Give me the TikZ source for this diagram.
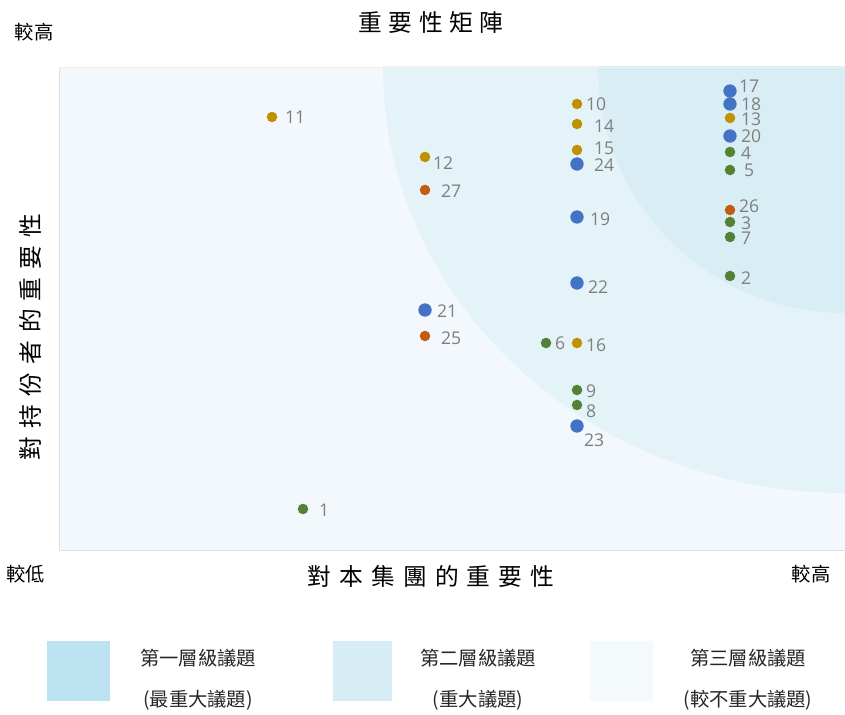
\documentclass[tikz,border=0pt]{standalone}
\usepackage{fontspec}
\setmainfont{Noto Sans CJK TC}
\newfontfamily\numfont{Open Sans}
\newfontfamily\widefont[LetterSpace=28]{Noto Sans CJK TC}
\newfontfamily\axisfont[LetterSpace=34]{Noto Sans CJK TC}
\definecolor{plotbg}{HTML}{F3F8FC}
\definecolor{tiertwo}{HTML}{E4F3F8}
\definecolor{tierone}{HTML}{D9EEF4}
\definecolor{keyone}{HTML}{BDE3F2}
\definecolor{keytwo}{HTML}{D6EDF5}
\definecolor{keythree}{HTML}{F4F9FC}
\definecolor{dotblue}{HTML}{4472C4}
\definecolor{dotgold}{HTML}{BF9000}
\definecolor{dotorange}{HTML}{C55A11}
\definecolor{dotgreen}{HTML}{538135}
\definecolor{numgray}{HTML}{7F7F7F}

\begin{document}
\begin{tikzpicture}[x=0.02cm, y=-0.02cm,
                every node/.style={inner sep=0pt, outer sep=0pt},
                blue/.style={circle, fill=dotblue, minimum size=7.6pt},
                gold/.style={circle, fill=dotgold, minimum size=6pt},
                orange/.style={circle, fill=dotorange, minimum size=6pt},
                green/.style={circle, fill=dotgreen, minimum size=6pt},
                num/.style={anchor=west, text=numgray, font=\numfont\fontsize{10}{12}\selectfont},
                axis/.style={font=\fontsize{11}{13}\selectfont},
                keytext/.style={font=\fontsize{11}{13}\selectfont, text=black!85}]

                \useasboundingbox (0,0) rectangle (845,715);

                % tiers
                \begin{scope}
                \clip (59,67) rectangle (845,550);
                \fill[plotbg] (59,67) rectangle (845,550);
                \fill[tiertwo] (845,67) ellipse [x radius=462, y radius=426];
                \fill[tierone] (845,67) ellipse [x radius=247, y radius=246];
                \end{scope}
                \draw[black!12] (59,67) -- (59,550) -- (845,550);
                \draw[black!6] (59,67) -- (845,67);

                % titles
                \node[font=\widefont\fontsize{13.5}{15}\selectfont] (title) at (431,22) {重要性矩陣};
                \node[axis] (yhigh) at (34,32) {較高};
                \node[axis] (xlow) at (26,574) {較低};
                \node[axis] (xhigh) at (811,574) {較高};
                \node[font=\axisfont\fontsize{13.5}{15}\selectfont] (xtitle) at (431,576) {對本集團的重要性};
                \node[font=\axisfont\fontsize{13.5}{15}\selectfont, rotate=90] (ytitle) at (30,337) {對持份者的重要性};

                % issues
                \node[gold] (d11) at (272,117) {};
                \node[gold] (d12) at (425,157) {};
                \node[orange] (d27) at (425,190) {};
                \node[blue] (d21) at (425,310) {};
                \node[orange] (d25) at (425,336) {};
                \node[green] (d1) at (303,509) {};
                \node[gold] (d10) at (577,104) {};
                \node[gold] (d14) at (577,124) {};
                \node[gold] (d15) at (577,150) {};
                \node[blue] (d24) at (577,164) {};
                \node[blue] (d19) at (577,217) {};
                \node[blue] (d22) at (577,283) {};
                \node[green] (d6) at (546,343) {};
                \node[gold] (d16) at (577,343) {};
                \node[green] (d9) at (577,390) {};
                \node[green] (d8) at (577,405) {};
                \node[blue] (d23) at (577,426) {};
                \node[blue] (d17) at (730,91) {};
                \node[blue] (d18) at (730,104) {};
                \node[gold] (d13) at (730,118) {};
                \node[blue] (d20) at (730,136) {};
                \node[green] (d4) at (730,152) {};
                \node[green] (d5) at (730,170) {};
                \node[orange] (d26) at (730,210) {};
                \node[green] (d3) at (730,222) {};
                \node[green] (d7) at (730,237) {};
                \node[green] (d2) at (730,276) {};

                \node[num] (n11) at (285,117) {11};
                \node[num] (n12) at (433,163) {12};
                \node[num] (n27) at (441,191) {27};
                \node[num] (n21) at (437,311) {21};
                \node[num] (n25) at (441,338) {25};
                \node[num] (n1) at (319,510) {1};
                \node[num] (n10) at (586,104) {10};
                \node[num] (n14) at (594,126) {14};
                \node[num] (n15) at (594,148) {15};
                \node[num] (n24) at (594,165) {24};
                \node[num] (n19) at (590,219) {19};
                \node[num] (n22) at (588,287) {22};
                \node[num] (n6) at (555,343) {6};
                \node[num] (n16) at (586,345) {16};
                \node[num] (n9) at (586,391) {9};
                \node[num] (n8) at (586,411) {8};
                \node[num] (n23) at (584,440) {23};
                \node[num] (n17) at (739,86) {17};
                \node[num] (n18) at (741,104) {18};
                \node[num] (n13) at (741,119) {13};
                \node[num] (n20) at (741,136) {20};
                \node[num] (n4) at (741,153) {4};
                \node[num] (n5) at (744,170) {5};
                \node[num] (n26) at (739,206) {26};
                \node[num] (n3) at (741,223) {3};
                \node[num] (n7) at (741,238) {7};
                \node[num] (n2) at (741,278) {2};

                % key
                \fill[keyone] (47,641) rectangle (110,701);
                \fill[keytwo] (333,641) rectangle (392,701);
                \fill[keythree] (590,641) rectangle (653,701);
                \node[keytext] (k1a) at (198,658) {第一層級議題};
                \node[keytext] (k1b) at (198,700) {(最重大議題)};
                \node[keytext] (k2a) at (478,658) {第二層級議題};
                \node[keytext] (k2b) at (478,700) {(重大議題)};
                \node[keytext] (k3a) at (748,658) {第三層級議題};
                \node[keytext] (k3b) at (748,700) {(較不重大議題)};
            \end{tikzpicture}
\end{document}
